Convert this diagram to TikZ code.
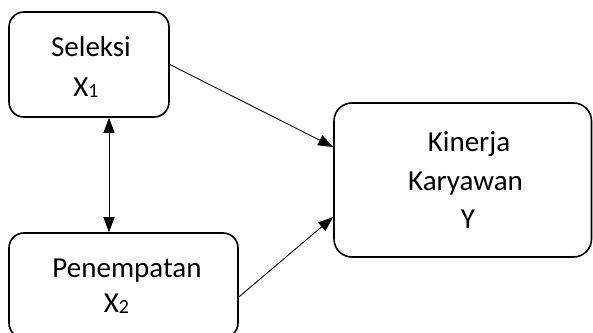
\documentclass[tikz,border=0pt]{standalone}
\usepackage{fontspec}
\setmainfont{Carlito}
\usetikzlibrary{arrows.meta}
\begin{document}
\begin{tikzpicture}[x=1pt,y=1pt,
  box/.style={draw, line width=1.6pt, rounded corners=15pt, inner sep=0pt},
  lbl/.style={anchor=base, inner sep=0pt, font=\fontsize{29}{38}\selectfont},
  conn/.style={line width=0.9pt, -{Triangle[length=15pt,width=11pt]}},
  dconn/.style={line width=0.9pt, {Triangle[length=15pt,width=11pt]}-{Triangle[length=15pt,width=11pt]}}]
\useasboundingbox (0,0) rectangle (593,332);
\clip (0,0) rectangle (593,332);
% boxes
\node[box, minimum width=160pt, minimum height=105pt] (s) at (89,267.5) {};
\node[box, minimum width=229pt, minimum height=105pt] (p) at (123.5,46.5) {};
\node[box, minimum width=257.5pt, minimum height=154pt, rounded corners=18pt] (k) at (462.75,152) {};
% texts
\node[lbl] (t1) at (91,275) {Seleksi};
\node[lbl] (t2) at (86,235) {X\raisebox{-1pt}{\fontsize{20}{20}\selectfont 1}};
\node[lbl] (t3) at (127,55) {Penempatan};
\node[lbl] (t4) at (116.5,20) {X\raisebox{-1pt}{\fontsize{20}{20}\selectfont 2}};
\node[lbl] (t5) at (469,180) {Kinerja};
\node[lbl] (t6) at (465.5,142) {Karyawan};
\node[lbl] (t7) at (468,104) {Y};
% connectors
\draw[conn] (s.east) -- ([yshift=33pt]k.west);
\draw[conn] ([yshift=-11.5pt]p.east) -- ([yshift=-37pt]k.west);
\draw[dconn] ([xshift=20pt]s.south) -- ([xshift=20pt]s.south |- p.north);
\end{tikzpicture}
\end{document}
